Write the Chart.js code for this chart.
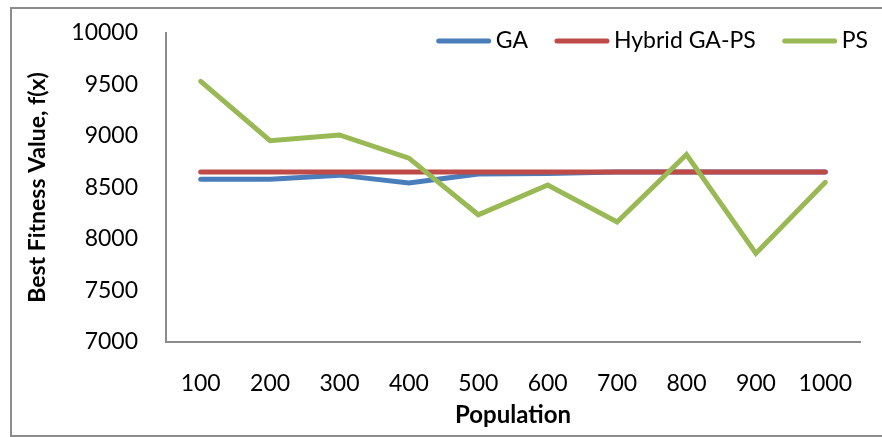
<!DOCTYPE html>
<html>
<head>
<meta charset="utf-8">
<script src="https://cdn.jsdelivr.net/npm/chart.js@4.4.0/dist/chart.umd.min.js"></script>
<style>
  html, body { margin: 0; padding: 0; background: #fff; }
  #frame {
    position: absolute; left: 10px; top: 7px;
    width: 880px; height: 426px;
    border: 2px solid #8c8c8c;
  }
  #wrap { position: absolute; left: 0; top: 0; width: 882px; height: 437px; }
</style>
</head>
<body>
<div id="frame"></div>
<div id="wrap"><canvas id="myChart"></canvas></div>
<script>
const populations = ["100", "200", "300", "400", "500", "600", "700", "800", "900", "1000"];
const gaValues = [8580, 8580, 8620, 8545, 8630, 8635, 8650, 8650, 8650, 8650];
const hybridValues = [8650, 8650, 8650, 8650, 8650, 8650, 8650, 8650, 8650, 8650];
const psValues = [9530, 8955, 9010, 8785, 8235, 8525, 8165, 8820, 7860, 8550];

const FONT = "Lato, Calibri, sans-serif";

// legend drawn by hand, inside the top right of the plot
const insideLegend = {
  id: "inside_legend",
  afterDraw: (chart) => {
    const ctx = chart.ctx;
    const sets = chart.data.datasets;
    ctx.save();
    ctx.font = "23px " + FONT;
    ctx.textBaseline = "middle";
    const y = 41;
    const sample = 54, gap = 5, space = 27;
    let x = 868;
    for (let i = sets.length - 1; i >= 0; i--) {
      const w = ctx.measureText(sets[i].label).width;
      x -= w;
      ctx.fillStyle = "#000";
      ctx.fillText(sets[i].label, x, y);
      x -= gap;
      ctx.strokeStyle = sets[i].borderColor;
      ctx.lineWidth = 5;
      ctx.lineCap = "round";
      ctx.beginPath();
      ctx.moveTo(x - sample + 2, y);
      ctx.lineTo(x - 2, y);
      ctx.stroke();
      x -= sample + space;
    }
    ctx.restore();
  },
};

// later series sit on top, like the original
const data = {
  labels: populations,
  datasets: [
    { label: "GA", data: gaValues, borderColor: "#4a7ebb", backgroundColor: "#4a7ebb", order: 2 },
    { label: "Hybrid GA-PS", data: hybridValues, borderColor: "#be4b48", backgroundColor: "#be4b48", order: 1 },
    { label: "PS", data: psValues, borderColor: "#98b954", backgroundColor: "#98b954", order: 0 },
  ],
};

const config = {
  type: "line",
  data: data,
  plugins: [insideLegend],
  options: {
    responsive: true,
    maintainAspectRatio: false,
    animation: false,
    layout: { padding: { left: 0, top: 33, right: 22, bottom: 0 } },
    elements: {
      line: { borderWidth: 5, tension: 0, borderCapStyle: "round", borderJoinStyle: "miter" },
      point: { radius: 0 },
    },
    scales: {
      x: {
        offset: true,
        grid: { display: false, drawTicks: false },
        border: { color: "#8c8c8c", width: 2 },
        ticks: { color: "#000", font: { family: FONT, size: 23 }, padding: 28, maxRotation: 0 },
        title: {
          display: true, text: "Population", color: "#000",
          font: { family: FONT, size: 24, weight: "bold" }, padding: { top: 0, bottom: 7 },
        },
        afterFit: (scale) => { scale.height = 95; },
      },
      y: {
        min: 7000, max: 10000,
        grid: { display: false, drawTicks: false },
        border: { color: "#8c8c8c", width: 2 },
        ticks: {
          stepSize: 500, color: "#000", font: { family: FONT, size: 23 }, padding: 28,
          callback: (v) => String(v),
        },
        title: {
          display: true, text: "Best Fitness Value, f(x)", color: "#000",
          font: { family: FONT, size: 23, weight: "bold" }, padding: { top: 24, bottom: 0 },
        },
        afterFit: (scale) => {
          scale.width = 166;
          scale.paddingTop = 0;
          scale.paddingBottom = 0;
        },
      },
    },
    plugins: {
      legend: { display: false },
      tooltip: { enabled: false },
    },
  },
};

const myChart = new Chart(document.getElementById("myChart"), config);
</script>
</body>
</html>
